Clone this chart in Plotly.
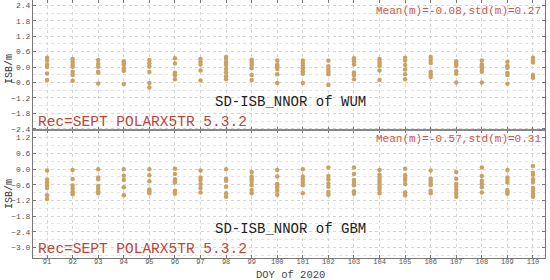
import plotly.graph_objects as go
from plotly.subplots import make_subplots

# DOY 91..110
days = list(range(91, 111))

# SD-ISB per day, WUM (m)
wum = [
    [0.36, 0.26, 0.10, 0.0, -0.25, -0.50],
    [0.31, 0.20, 0.08, 0.01, -0.18, -0.31, -0.53],
    [0.27, 0.12, 0.01, -0.18, -0.22, -0.64],
    [0.23, 0.17, 0.10, -0.05, -0.14, -0.66],
    [0.27, 0.15, 0.02, -0.19, -0.62, -0.80],
    [0.34, 0.14, -0.22, -0.32, -0.47],
    [0.31, 0.21, 0.10, -0.13, -0.52],
    [0.39, 0.31, 0.18, 0.08, -0.08, -0.21, -0.36, -0.47],
    [0.28, 0.18, 0.08, -0.05, -0.31, -0.50],
    [0.26, 0.10, 0.03, -0.08, -0.28, -0.62],
    [0.26, 0.16, 0.05, -0.05, -0.16, -0.26, -0.62],
    [0.26, 0.03, -0.08, -0.18, -0.28, -0.70],
    [0.34, 0.23, 0.10, -0.21, -0.31, -0.47],
    [0.31, 0.21, 0.13, 0.05, -0.13, -0.50],
    [0.36, 0.26, 0.08, -0.10, -0.28, -0.47],
    [0.39, 0.28, 0.16, -0.18, -0.28, -0.39],
    [0.23, 0.13, 0.05, -0.16, -0.26, -0.60],
    [0.26, 0.10, 0.03, -0.08, -0.18, -0.60],
    [0.21, 0.05, -0.03, -0.23, -0.31, -0.65],
    [0.36, 0.26, 0.18, -0.31, -0.42],
]

# SD-ISB per day, GBM (m)
gbm = [
    [-0.06, -0.40, -0.52, -0.63, -0.73, -1.00, -1.15],
    [-0.04, -0.38, -0.63, -0.75, -0.88, -0.96],
    [-0.01, -0.32, -0.39, -0.65, -0.75, -0.85, -0.93],
    [-0.01, -0.26, -0.42, -0.70, -1.00],
    [-0.01, -0.24, -0.47, -0.78, -0.85, -0.93],
    [0.01, -0.19, -0.39, -0.47, -0.52, -0.83, -0.95],
    [-0.06, -0.32, -0.42, -0.57, -0.73, -0.90],
    [-0.01, -0.37, -0.45, -0.68, -0.93, -1.06],
    [-0.11, -0.29, -0.39, -0.50, -0.62, -0.80, -0.93],
    [-0.04, -0.29, -0.57, -0.65, -0.73, -0.83, -0.98],
    [-0.01, -0.29, -0.39, -0.50, -0.62, -0.93],
    [0.06, -0.27, -0.39, -0.55, -0.68, -0.88, -0.98],
    [0.06, -0.19, -0.42, -0.52, -0.62, -0.85, -0.95],
    [-0.04, -0.22, -0.32, -0.42, -0.50, -0.60, -0.70, -0.80, -0.93],
    [0.01, -0.24, -0.34, -0.42, -0.57, -0.90, -1.00],
    [-0.06, -0.37, -0.45, -0.55, -0.62, -0.83, -0.93],
    [-0.11, -0.37, -0.57, -0.68, -0.80, -0.93, -1.06],
    [0.06, -0.27, -0.45, -0.57, -0.70, -0.90],
    [-0.04, -0.32, -0.42, -0.52, -0.80, -0.88, -0.95],
    [0.11, -0.14, -0.22, -0.39, -0.50, -0.73, -0.83, -0.95, -1.06],
]

stats = ["Mean(m)=-0.08,std(m)=0.27", "Mean(m)=-0.57,std(m)=0.31"]
titles = ["SD-ISB_NNOR of WUM", "SD-ISB_NNOR of GBM"]
rec_label = "Rec=SEPT POLARX5TR 5.3.2"
ytick_top = [-2.4, -1.8, -1.2, -0.6, 0.0, 0.6, 1.2, 1.8, 2.4]
ytick_bot = [-3.0, -2.4, -1.8, -1.2, -0.6, 0.0, 0.6, 1.2]

MONO = "Liberation Mono, Courier New, monospace"
DOT = "#c9a263"
RED = "#c9574c"

L, R, T, B = 33, 5, 0, 22
W, H = 550, 280
PW, PH = W - L - R, H - T - B

def px_x(p):
    return (p - L) / PW

def px_y(p):
    return 1 - (p - T) / PH

def flatten(series):
    xs, ys = [], []
    for d, vals in zip(days, series):
        xs += [d] * len(vals)
        ys += vals
    return xs, ys

fig = make_subplots(rows=2, cols=1, shared_xaxes=True, vertical_spacing=0)

for row, series in [(1, wum), (2, gbm)]:
    xs, ys = flatten(series)
    fig.add_trace(go.Scatter(x=xs, y=ys, mode="markers",
                             marker=dict(color=DOT, size=4.5, line=dict(width=0)),
                             showlegend=False), row=row, col=1)

axis_common = dict(showline=True, linecolor="#777", linewidth=1, mirror="ticks",
                   ticks="inside", ticklen=3, tickcolor="#777", automargin=False,
                   gridcolor="#d6d6d6", griddash="dot", gridwidth=1, zeroline=False,
                   tickfont=dict(family=MONO, size=8, color="#555"))

fig.update_xaxes(range=[90.45, 110.47], tickvals=days, **axis_common)
fig.update_xaxes(showticklabels=False, row=1, col=1)
fig.update_xaxes(ticklabelstandoff=-3, tickfont=dict(family=MONO, size=7, color="#555"),
                 row=2, col=1)

minor = dict(dtick=0.3, showgrid=True, gridcolor="#e4e4e4", griddash="dot", ticks="")
fig.update_yaxes(range=[-2.45, 2.61], tickvals=ytick_top, tickformat=".1f",
                 minor=minor, **axis_common, row=1, col=1)
fig.update_yaxes(range=[-3.40, 1.49], tickvals=ytick_bot, tickformat=".1f",
                 minor=minor, **axis_common, row=2, col=1)

# panel separator
fig.add_shape(type="line", xref="paper", yref="paper", x0=0, x1=1,
              y0=px_y(130), y1=px_y(130), line=dict(color="#888", width=2))

# axis titles
for yc in (69, 194):
    fig.add_annotation(text="ISB/m", xref="paper", yref="paper", x=px_x(9), y=px_y(yc),
                       textangle=-90, showarrow=False, xanchor="center", yanchor="middle",
                       font=dict(family=MONO, size=10, color="#333"))
fig.add_annotation(text="DOY of 2020", xref="paper", yref="paper", x=px_x(290), y=px_y(274.5),
                   showarrow=False, xanchor="center", yanchor="middle",
                   font=dict(family=MONO, size=10.5, color="#444"))

# panel texts (pixel positions)
panels = [(11, 102, 122), (139, 229, 249)]
for i, (ys, yt, yr) in enumerate(panels):
    fig.add_annotation(text=stats[i], xref="paper", yref="paper", x=px_x(543), y=px_y(ys),
                       xanchor="right", yanchor="middle", showarrow=False,
                       font=dict(family=MONO, size=11, color=RED))
    fig.add_annotation(text=titles[i], xref="paper", yref="paper", x=px_x(290), y=px_y(yt),
                       xanchor="center", yanchor="middle", showarrow=False,
                       font=dict(family=MONO, size=14, color="#222"))
    fig.add_annotation(text=rec_label, xref="paper", yref="paper", x=px_x(36), y=px_y(yr),
                       xanchor="left", yanchor="middle", showarrow=False,
                       font=dict(family=MONO, size=14.5, color="#b8473c"))

fig.update_layout(width=W, height=H, margin=dict(l=L, r=R, t=T, b=B),
                  plot_bgcolor="white", paper_bgcolor="white")
fig.update_yaxes(domain=[px_y(130), 1.0], row=1, col=1)
fig.update_yaxes(domain=[0.0, px_y(130)], row=2, col=1)

# page body has a default 8px margin, drop it so the figure sits at 0,0
fig.write_html("out.html", config={"displayModeBar": False},
               post_script="document.body.style.margin='0';")
